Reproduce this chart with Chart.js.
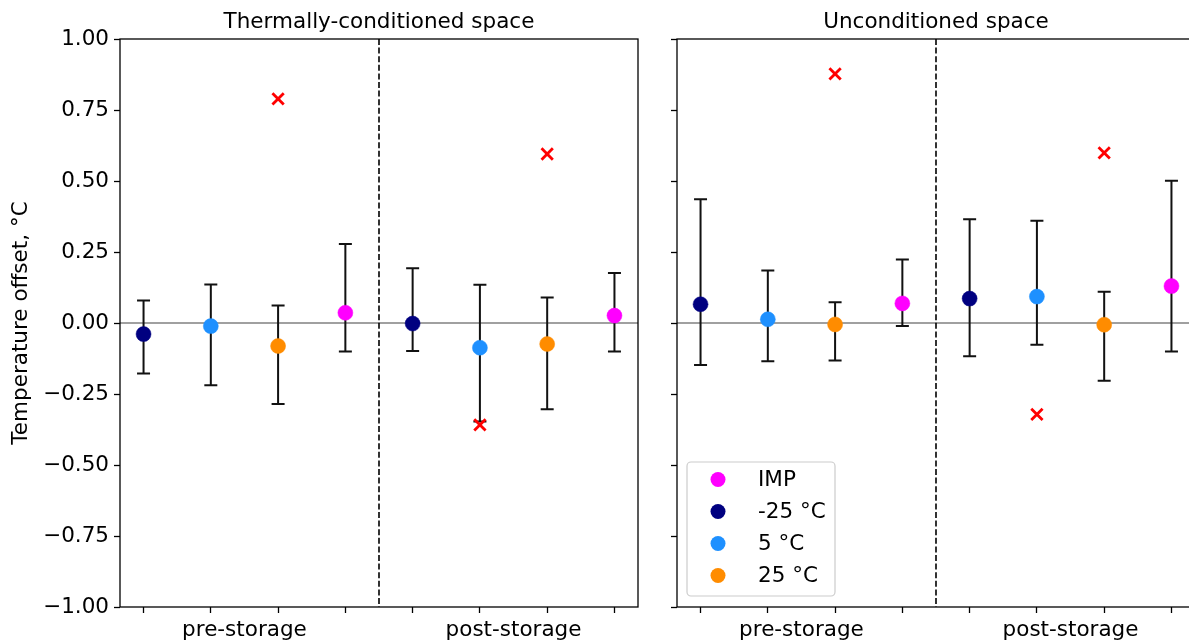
<!DOCTYPE html>
<html>
<head>
<meta charset="utf-8">
<script src="https://cdn.jsdelivr.net/npm/chart.js@4.4.1/dist/chart.umd.min.js"></script>
<style>
  html, body { margin: 0; padding: 0; background: #fff; overflow: hidden; width: 1189px; height: 640px; }
  #wrap { position: relative; width: 1300px; height: 640px; }
  .panel { position: absolute; top: 0; height: 640px; }
  #condBox { left: 0; width: 650px; }
  #uncondBox { left: 650px; width: 560px; }
</style>
</head>
<body>
<div id="wrap">
  <div class="panel" id="condBox"><canvas id="cond" width="650" height="640"></canvas></div>
  <div class="panel" id="uncondBox"><canvas id="uncond" width="560" height="640"></canvas></div>
</div>
<script>
// ---- data -------------------------------------------------------------
const panelTitles = ['Thermally-conditioned space', 'Unconditioned space'];
const yAxisTitle = 'Temperature offset, °C';
const storageGroups = ['pre-storage', 'post-storage'];

const seriesLabels = ['IMP', '-25 °C', '5 °C', '25 °C'];
const seriesColors = ['#ff00ff', '#000080', '#1e90ff', '#ff8c00'];

// slots 0–7 along x: four sets per storage group; value = index into seriesLabels
const slotSeries = [1, 2, 3, 0, 1, 2, 3, 0];

const yTicks = [-1.00, -0.75, -0.50, -0.25, 0.00, 0.25, 0.50, 0.75, 1.00];

// thermally-conditioned space
const condMean = [-0.039, -0.011, -0.081, 0.036, -0.002, -0.087, -0.074, 0.026];
const condLow  = [-0.178, -0.219, -0.285, -0.100, -0.099, -0.347, -0.304, -0.100];
const condHigh = [0.079, 0.136, 0.062, 0.278, 0.193, 0.135, 0.090, 0.176];
const condOutlierSlots  = [2, 5, 6];
const condOutlierValues = [0.789, -0.359, 0.595];

// unconditioned space
const uncondMean = [0.066, 0.013, -0.005, 0.069, 0.086, 0.093, -0.006, 0.130];
const uncondLow  = [-0.148, -0.135, -0.132, -0.011, -0.117, -0.077, -0.203, -0.100];
const uncondHigh = [0.436, 0.185, 0.073, 0.224, 0.365, 0.360, 0.110, 0.501];
const uncondOutlierSlots  = [2, 5, 6];
const uncondOutlierValues = [0.877, -0.322, 0.599];

// ---- drawing ----------------------------------------------------------
const FONT = '"DejaVu Sans", "Liberation Sans", sans-serif';
const FS = 21.5;

const panelDecor = {
  id: 'panelDecor',
  beforeDatasetsDraw(chart, args, o) {
    const { ctx, chartArea: a, scales: { x, y } } = chart;
    ctx.save();
    ctx.beginPath();
    ctx.rect(a.left, a.top, a.right - a.left, a.bottom - a.top);
    ctx.clip();

    // zero reference line
    const y0 = y.getPixelForValue(0);
    ctx.strokeStyle = '#808080';
    ctx.lineWidth = 1.4;
    ctx.beginPath();
    ctx.moveTo(a.left, y0);
    ctx.lineTo(a.right, y0);
    ctx.stroke();

    // divider between storage groups
    const xd = x.getPixelForValue((3 + 4) / 2);
    ctx.strokeStyle = '#000';
    ctx.lineWidth = 1.6;
    ctx.setLineDash([6, 2.6]);
    ctx.beginPath();
    ctx.moveTo(xd, a.top);
    ctx.lineTo(xd, a.bottom);
    ctx.stroke();
    ctx.setLineDash([]);

    // error bars
    ctx.strokeStyle = '#111';
    ctx.lineWidth = 2;
    chart.data.datasets.forEach((ds) => {
      if (!ds.errorBars) return;
      ds.data.forEach((r) => {
        const top = y.getPixelForValue(r.hi);
        const bot = y.getPixelForValue(r.lo);
        const px = x.getPixelForValue(r.x);
        ctx.beginPath();
        ctx.moveTo(px, top); ctx.lineTo(px, bot);
        ctx.moveTo(px - 6.5, top); ctx.lineTo(px + 6.5, top);
        ctx.moveTo(px - 6.5, bot); ctx.lineTo(px + 6.5, bot);
        ctx.stroke();
      });
    });
    ctx.restore();
  },
  afterDraw(chart, args, o) {
    const { ctx, chartArea: a, scales: { x } } = chart;
    ctx.save();

    // axes frame
    ctx.strokeStyle = '#000';
    ctx.lineWidth = 1.3;
    ctx.strokeRect(a.left, a.top, a.right - a.left, a.bottom - a.top);

    ctx.fillStyle = '#000';
    ctx.font = `${FS}px ${FONT}`;

    // panel title
    ctx.textAlign = 'center';
    ctx.textBaseline = 'alphabetic';
    ctx.fillText(o.title, (a.left + a.right) / 2, 28);

    // storage group labels centred under their four slots
    storageGroups.forEach((g, gi) => {
      const c = gi * 4 + 1.5;
      ctx.fillText(g, x.getPixelForValue(c), 636);
    });

    // y-axis title
    if (o.yTitle) {
      ctx.save();
      ctx.translate(21, (a.top + a.bottom) / 2);
      ctx.rotate(-Math.PI / 2);
      ctx.textBaseline = 'middle';
      ctx.fillText(o.yTitle, 0, 0);
      ctx.restore();
    }

    // legend box
    if (o.legend) {
      const bx = a.left + 10, bw = 148, bh = 134;
      const by = a.bottom - 11 - bh;
      ctx.fillStyle = 'rgba(255,255,255,0.8)';
      ctx.strokeStyle = '#cccccc';
      ctx.lineWidth = 1.2;
      ctx.beginPath();
      ctx.roundRect(bx, by, bw, bh, 4);
      ctx.fill();
      ctx.stroke();
      ctx.textAlign = 'left';
      ctx.textBaseline = 'middle';
      seriesLabels.forEach((lab, i) => {
        const cy = by + 17.5 + 32 * i;
        ctx.fillStyle = seriesColors[i];
        ctx.beginPath();
        ctx.arc(bx + 31, cy, 7.5, 0, Math.PI * 2);
        ctx.fill();
        ctx.fillStyle = '#000';
        ctx.fillText(lab, bx + 71, cy + 1);
      });
    }
    ctx.restore();
  }
};

function buildDatasets(mean, low, high, outSlots, outVals) {
  const sets = seriesLabels.map((lab, s) => ({
    label: lab,
    errorBars: true,
    data: slotSeries
      .map((ser, i) => ser === s ? { x: i, y: mean[i], lo: low[i], hi: high[i] } : null)
      .filter(Boolean),
    backgroundColor: seriesColors[s],
    borderColor: seriesColors[s],
    pointRadius: 7.5,
    pointHoverRadius: 7.5,
    pointBorderWidth: 0.5
  }));
  sets.push({
    label: 'outlier',
    data: outSlots.map((s, i) => ({ x: s, y: outVals[i] })),
    pointStyle: 'crossRot',
    pointRadius: 8,
    pointHoverRadius: 8,
    borderColor: '#ff0000',
    backgroundColor: '#ff0000',
    pointBorderWidth: 2.8
  });
  return sets;
}

function makePanel(id, cfg) {
  return new Chart(document.getElementById(id), {
    type: 'scatter',
    data: { datasets: buildDatasets(cfg.mean, cfg.low, cfg.high, cfg.outSlots, cfg.outVals) },
    plugins: [panelDecor],
    options: {
      responsive: false,
      animation: false,
      events: [],
      layout: { padding: { top: 39, right: cfg.padRight, bottom: 0, left: 0 } },
      plugins: {
        legend: { display: false },
        tooltip: { enabled: false },
        panelDecor: { title: cfg.title, yTitle: cfg.yTitle, legend: cfg.legend }
      },
      scales: {
        x: {
          type: 'linear',
          min: -0.35,
          max: 7.35,
          afterBuildTicks: (s) => { s.ticks = slotSeries.map((_, i) => ({ value: i })); },
          afterFit: (s) => { s.height = 33; },
          ticks: { display: false, autoSkip: false },
          grid: { drawOnChartArea: false, drawTicks: true, tickLength: 6, tickColor: '#000', tickWidth: 1.3 },
          border: { display: false }
        },
        y: {
          type: 'linear',
          min: -1,
          max: 1,
          afterBuildTicks: (s) => { s.ticks = yTicks.map(v => ({ value: v })); },
          afterFit: (s) => { s.width = cfg.yWidth; },
          ticks: {
            display: cfg.yLabels,
            padding: 5,
            color: '#000',
            font: { family: FONT, size: FS },
            callback: (v) => v.toFixed(2).replace('-', '\u2212')
          },
          grid: { drawOnChartArea: false, drawTicks: true, tickLength: 6, tickColor: '#000', tickWidth: 1.3 },
          border: { display: false }
        }
      }
    }
  });
}

makePanel('cond', {
  title: panelTitles[0], yTitle: yAxisTitle, legend: false, yLabels: true,
  yWidth: 120, padRight: 12,
  mean: condMean, low: condLow, high: condHigh,
  outSlots: condOutlierSlots, outVals: condOutlierValues
});

makePanel('uncond', {
  title: panelTitles[1], yTitle: null, legend: true, yLabels: false,
  yWidth: 27, padRight: 15,
  mean: uncondMean, low: uncondLow, high: uncondHigh,
  outSlots: uncondOutlierSlots, outVals: uncondOutlierValues
});
</script>
</body>
</html>
